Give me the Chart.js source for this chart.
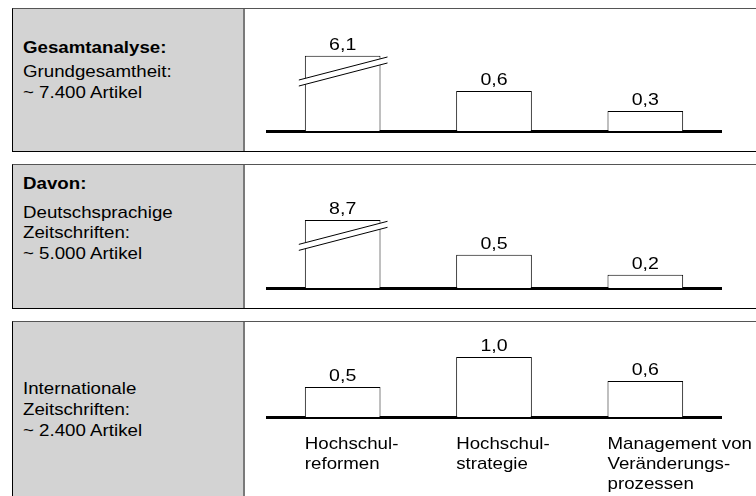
<!DOCTYPE html>
<html>
<head>
<meta charset="utf-8">
<script src="https://cdn.jsdelivr.net/npm/chart.js@4.4.1/dist/chart.umd.min.js"></script>
<style>
  body { margin: 0; width: 756px; height: 496px; overflow: hidden; background: #fff;
         font-family: "Liberation Sans", Arial, sans-serif; color: #000; }
  .panel { position: absolute; left: 12px; width: 760px; box-sizing: border-box;
           border-left: 1px solid #000; border-bottom: 1px solid #000; border-top: 1px solid #555; }
  .grau { position: absolute; left: 0; top: 0; bottom: 0; width: 230px;
          background: #d3d3d3; border-right: 2px solid #7a7a7a; }
  .txt { position: absolute; left: 23px; font-size: 17px; line-height: 16px; white-space: nowrap;
         transform: scaleX(1.1); transform-origin: 0 0; }
  .txt b { font-weight: bold; }
  canvas { position: absolute; }
</style>
</head>
<body>
<div class="panel" style="top:8px;height:144px;"><div class="grau"></div></div>
<div class="panel" style="top:164px;height:145px;"><div class="grau"></div></div>
<div class="panel" style="top:321px;height:200px;"><div class="grau"></div></div>

<div class="txt" style="top:40px;"><b>Gesamtanalyse:</b></div>
<div class="txt" style="top:64px;">Grundgesamtheit:</div>
<div class="txt" style="top:85px;">~ 7.400 Artikel</div>

<div class="txt" style="top:176px;"><b>Davon:</b></div>
<div class="txt" style="top:205px;">Deutschsprachige</div>
<div class="txt" style="top:225px;">Zeitschriften:</div>
<div class="txt" style="top:246px;">~ 5.000 Artikel</div>

<div class="txt" style="top:381px;">Internationale</div>
<div class="txt" style="top:402px;">Zeitschriften:</div>
<div class="txt" style="top:423px;">~ 2.400 Artikel</div>

<canvas id="chart1" width="511" height="125" style="left:245px;top:9px;"></canvas>
<canvas id="chart2" width="511" height="126" style="left:245px;top:165px;"></canvas>
<canvas id="chart3" width="511" height="174" style="left:245px;top:322px;"></canvas>

<script>
// Daten (Anteile in %)
const kategorien = [
  ["Hochschul-", "reformen"],
  ["Hochschul-", "strategie"],
  ["Management von", "Veränderungs-", "prozessen"]
];
const gesamtWerte = [6.1, 0.6, 0.3];
const deutschWerte = [8.7, 0.5, 0.2];
const internationalWerte = [0.5, 1.0, 0.6];

const schrift = '17px "Liberation Sans", Arial, sans-serif';

function formatWert(v) {
  return v.toFixed(1).replace(".", ",");
}

// Text etwas in die Breite gezogen, wie im Original
function text(ctx, t, x, y, sx) {
  ctx.save();
  ctx.translate(x, y);
  ctx.scale(sx, 1);
  ctx.fillText(t, 0, 0);
  ctx.restore();
}

// Werte, Bruchzeichen und Kategorien zeichnen
const beschriftung = {
  id: "beschriftung",
  afterDatasetsDraw(chart, args, opts) {
    const ctx = chart.ctx;
    const meta = chart.getDatasetMeta(0);
    const werte = opts.werte;
    ctx.save();
    meta.data.forEach((bar, i) => {
      const w = bar.width;
      // Achsenbruch fuer gekappte Balken
      if (werte[i] > opts.kappe) {
        const yc = bar.y + 16;
        const s = 0.26;
        const x0 = bar.x - w / 2 - 6;
        const x1 = bar.x + w / 2 + 7;
        const yAt = (x, d) => yc - (x - bar.x) * s + d;
        ctx.fillStyle = "#fff";
        ctx.beginPath();
        ctx.moveTo(x0, yAt(x0, -3));
        ctx.lineTo(x1, yAt(x1, -3));
        ctx.lineTo(x1, yAt(x1, 3));
        ctx.lineTo(x0, yAt(x0, 3));
        ctx.closePath();
        ctx.fill();
        ctx.strokeStyle = "#000";
        ctx.lineWidth = 1;
        [-3, 3].forEach((d) => {
          ctx.beginPath();
          ctx.moveTo(x0, yAt(x0, d));
          ctx.lineTo(x1, yAt(x1, d));
          ctx.stroke();
        });
      }
      ctx.fillStyle = "#000";
      ctx.font = schrift;
      ctx.textAlign = "center";
      ctx.textBaseline = "alphabetic";
      text(ctx, formatWert(werte[i]), bar.x, bar.y - 6, 1.15);
      if (opts.zeigeKategorien) {
        ctx.textAlign = "left";
        kategorien[i].forEach((zeile, j) => {
          text(ctx, zeile, bar.x - w / 2, chart.chartArea.bottom + 32 + j * 20, 1.1);
        });
      }
    });
    ctx.restore();
  }
};

function zeichnen(id, werte, kappe, yMax, untenPad, zeigeKategorien) {
  const ctx = document.getElementById(id).getContext("2d");
  return new Chart(ctx, {
    type: "bar",
    data: {
      labels: kategorien.map((k) => k.join(" ")),
      datasets: [{
        data: werte.map((v) => Math.min(v, kappe)),
        backgroundColor: "#fff",
        borderColor: "#000",
        borderWidth: 1,
        barPercentage: 0.5,
        categoryPercentage: 1
      }]
    },
    options: {
      responsive: false,
      animation: false,
      devicePixelRatio: 1,
      layout: { padding: { left: 22, right: 35, top: 0, bottom: untenPad } },
      plugins: {
        legend: { display: false },
        tooltip: { enabled: false },
        beschriftung: { werte, kappe, zeigeKategorien }
      },
      scales: {
        x: {
          display: true,
          offset: true,
          grid: { display: false, drawTicks: false },
          border: { display: true, width: 3, color: "#000" },
          ticks: { display: false }
        },
        y: { display: false, min: 0, max: yMax }
      }
    },
    plugins: [beschriftung]
  });
}

zeichnen("chart1", gesamtWerte, 1.13, 122 / 66.7, 3, false);
zeichnen("chart2", deutschWerte, 1.02, 123 / 66.7, 3, false);
zeichnen("chart3", internationalWerte, Infinity, 95 / 60, 79, true);
</script>
</body>
</html>
